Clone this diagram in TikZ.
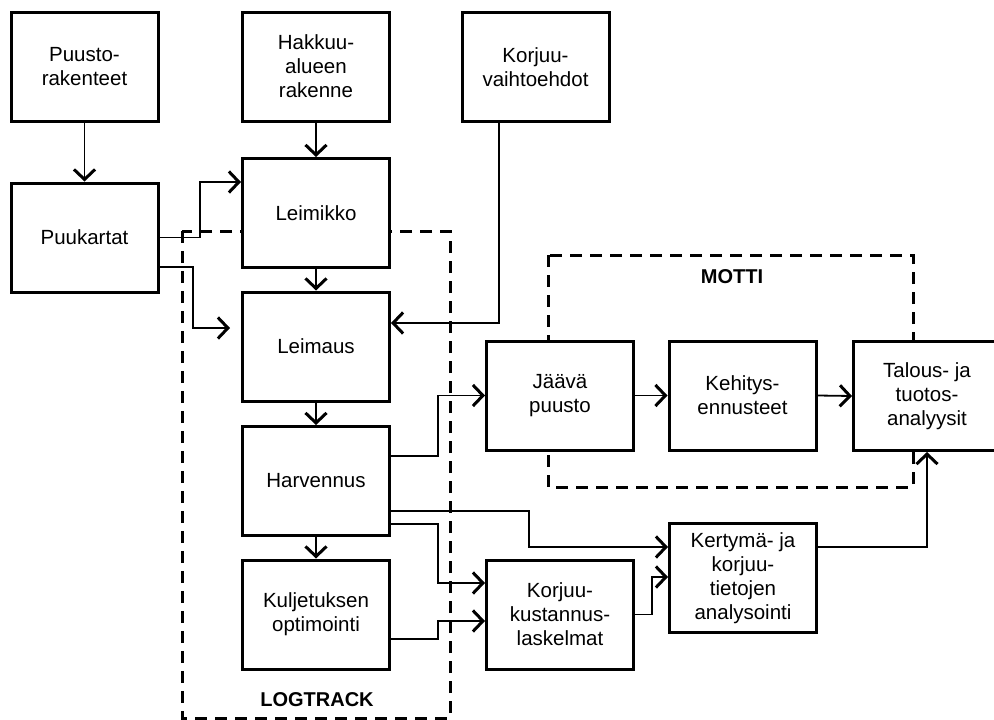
\documentclass[tikz,border=0pt]{standalone}
\usepackage{fontspec}
\setmainfont{Liberation Sans}
\usetikzlibrary{arrows.meta}
\begin{document}
\begin{tikzpicture}[x=1pt,y=-1pt,
  box/.style={draw, line width=3pt, fill=white, minimum width=147pt, minimum height=109pt, align=center, inner sep=2pt, font=\fontsize{20.5}{24}\selectfont},
  arr/.style={line width=1.8pt, -{Straight Barb[length=10pt,width=21pt,line width=3pt]}},
  grp/.style={draw, line width=3pt, dash pattern=on 12pt off 8pt},
  lbl/.style={font=\fontsize{20}{24}\selectfont\bfseries}]
\useasboundingbox (0,0) rectangle (994,720);
% dashed groups
\draw[grp] (182,231) rectangle (450,718);
\draw[grp] (548,255) rectangle (913,487);
\node[lbl] (logtrack) at (317,700) {LOGTRACK};
\node[lbl] (motti) at (732,277) {MOTTI};
% boxes
\node[box] (puusto) at (84.5,66.5) {Puusto-\\rakenteet};
\node[box] (hakkuu) at (316,66.5) {Hakkuu-\\alueen\\rakenne};
\node[box] (korjuu) at (535.5,67) {Korjuu-\\vaihtoehdot};
\node[box] (puukartat) at (84.5,237.5) {Puukartat};
\node[box] (leimikko) at (316,213) {Leimikko};
\node[box] (leimaus) at (316,346.5) {Leimaus};
\node[box] (harvennus) at (316,481) {Harvennus};
\node[box] (kuljetus) at (316,614.5) {Kuljetuksen\\optimointi};
\node[box] (jaava) at (560,395.5) {Jäävä\\puusto};
\node[box] (kehitys) at (742.5,395.5) {Kehitys-\\ennusteet};
\node[box] (talous) at (927,396) {Talous- ja\\tuotos-\\analyysit};
\node[box] (kertyma) at (743,578) {Kertymä- ja\\korjuu-\\tietojen\\analysointi};
\node[box] (korjuukust) at (560,614.5) {Korjuu-\\kustannus-\\laskelmat};
\coordinate (pk2end) at (230,328);
% connectors
\draw[arr] (puusto.south) -- (puukartat.north);
\draw[arr] (hakkuu.south) -- (leimikko.north);
\draw[arr] (puukartat.east) -- (200,237.5) |- ([yshift=31pt]leimikko.west);
\draw[arr] ([yshift=-29.5pt]puukartat.east) -- (193,267) |- (pk2end);
\draw[arr] (leimikko.south) -- (leimaus.north);
\draw[arr] ([xshift=-36.5pt]korjuu.south) |- ([yshift=23.5pt]leimaus.east);
\draw[arr] (leimaus.south) -- (harvennus.north);
\draw[arr] (harvennus.south) -- (kuljetus.north);
\draw[arr] ([yshift=25pt]harvennus.east) -- (438,456) |- (jaava.west);
\draw[arr] ([yshift=-30pt]harvennus.east) -- (529,511) |- ([yshift=31pt]kertyma.west);
\draw[arr] ([yshift=-43pt]harvennus.east) -- (438,524) |- ([yshift=31.5pt]korjuukust.west);
\draw[arr] ([yshift=-24.5pt]kuljetus.east) -- (438,639) |- ([yshift=-6.5pt]korjuukust.west);
\draw[arr] (korjuukust.east) -- (652,614.5) |- ([yshift=1pt]kertyma.west);
\draw[arr] (jaava.east) -- (kehitys.west);
\draw[arr] (kehitys.east) -- (talous.west);
\draw[arr] ([yshift=31pt]kertyma.east) -| (talous.south);
\end{tikzpicture}
\end{document}
